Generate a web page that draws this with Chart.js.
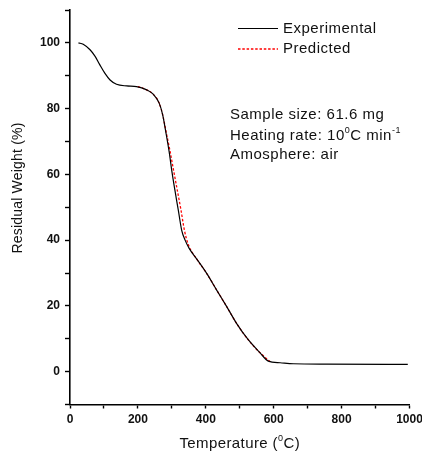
<!DOCTYPE html>
<html><head><meta charset="utf-8">
<script src="https://cdn.jsdelivr.net/npm/chart.js@4"></script>
<style>html,body{margin:0;padding:0;background:#fff;} #wrap{width:422px;height:456px;position:relative;}</style>
</head><body><div id="wrap"><canvas id="c" width="422" height="456"></canvas></div>
<script>
// ---- data ----
const expTemp   = [25, 39, 59, 74, 88, 103, 118, 137, 167, 196, 226, 245, 263, 273, 282, 292, 300, 309, 319, 329, 339, 351, 373, 403, 432, 462, 491, 525, 560, 584, 619, 658, 756, 995];
const expWeight = [100, 99.6, 97.9, 95.9, 93.3, 90.7, 88.7, 87.4, 86.9, 86.7, 85.7, 84.4, 81.6, 78.1, 73.0, 66.9, 61.0, 55.2, 49.1, 43.0, 40.0, 37.5, 34.3, 29.8, 24.8, 19.7, 14.6, 9.7, 5.7, 3.2, 2.7, 2.4, 2.3, 2.2];
const predTemp   = [200, 226, 245, 263, 273, 283, 294, 305, 316, 327, 337, 349, 373, 403, 432, 462, 491, 525, 560, 590];
const predWeight = [86.7, 85.7, 84.4, 81.6, 78.1, 73.0, 67.4, 61.3, 55.2, 49.1, 43.0, 38.5, 34.3, 29.8, 24.8, 19.7, 14.6, 9.7, 5.7, 3.0];
const seriesNames = ['Experimental', 'Predicted'];
const xLabelTicks = [0, 200, 400, 600, 800, 1000];
const yLabelTicks = [0, 20, 40, 60, 80, 100];
const xTitle = [['Temperature (', false], ['0', true], ['C)', false]];
const yTitle = 'Residual Weight (%)';
const infoLines = [
  [['Sample size: 61.6 mg', false]],
  [['Heating rate: 10', false], ['0', true], ['C min', false], ['-1', true]],
  [['Amosphere: air', false]]
];

const FONT = '"Liberation Sans", Arial, sans-serif';

function drawRich(ctx, parts, x, y, size, spacing) {
  ctx.textBaseline = 'middle';
  ctx.textAlign = 'left';
  let cx = x;
  for (const [t, sup] of parts) {
    const s = sup ? Math.round(size * 0.6) : size;
    ctx.font = s + 'px ' + FONT;
    ctx.letterSpacing = spacing + 'px';
    ctx.fillText(t, cx, sup ? y - size * 0.38 : y);
    cx += ctx.measureText(t).width;
  }
  return cx - x;
}
function richWidth(ctx, parts, size, spacing) {
  let w = 0;
  for (const [t, sup] of parts) {
    const s = sup ? Math.round(size * 0.6) : size;
    ctx.font = s + 'px ' + FONT;
    ctx.letterSpacing = spacing + 'px';
    w += ctx.measureText(t).width;
  }
  return w;
}

const decor = {
  id: 'decor',
  afterDraw(chart) {
    const ctx = chart.ctx;
    const ca = chart.chartArea;
    ctx.save();
    ctx.fillStyle = '#111';
    // x title
    const xs = 15, xsp = 0.4;
    const w = richWidth(ctx, xTitle, xs, xsp);
    drawRich(ctx, xTitle, (ca.left + ca.right) / 2 - w / 2, 444, xs, xsp);
    // y title
    ctx.save();
    ctx.translate(18, 188);
    ctx.rotate(-Math.PI / 2);
    ctx.font = '14px ' + FONT;
    ctx.letterSpacing = '0.2px';
    ctx.textAlign = 'center';
    ctx.textBaseline = 'middle';
    ctx.fillText(yTitle, 0, 0);
    ctx.restore();
    // legend
    const lx0 = 238, lx1 = 278;
    const rows = [28.5, 49];
    chart.data.datasets.forEach((ds, i) => {
      ctx.save();
      ctx.strokeStyle = ds.borderColor;
      ctx.lineWidth = ds.borderWidth;
      ctx.setLineDash(ds.borderDash || []);
      ctx.beginPath();
      ctx.moveTo(lx0, rows[i]);
      ctx.lineTo(lx1, rows[i]);
      ctx.stroke();
      ctx.restore();
      drawRich(ctx, [[seriesNames[i], false]], 283, rows[i], 15, 0.5);
    });
    // info text
    const iy = [115, 136, 155];
    infoLines.forEach((parts, i) => drawRich(ctx, parts, 230, iy[i], 15, 0.5));
    ctx.restore();
  }
};

const ctx = document.getElementById('c').getContext('2d');
new Chart(ctx, {
  type: 'line',
  data: {
    datasets: [
      {
        label: seriesNames[0],
        data: expTemp.map((t, i) => ({ x: t, y: expWeight[i] })),
        borderColor: '#000',
        borderWidth: 1.2,
        pointRadius: 0,
        cubicInterpolationMode: 'monotone',
        fill: false
      },
      {
        label: seriesNames[1],
        data: predTemp.map((t, i) => ({ x: t, y: predWeight[i] })),
        borderColor: '#ff0000',
        borderWidth: 1.3,
        borderDash: [2.5, 1.8],
        pointRadius: 0,
        cubicInterpolationMode: 'monotone',
        fill: false
      }
    ]
  },
  options: {
    responsive: false,
    animation: false,
    layout: { padding: { left: 0, top: 10, right: 12.5, bottom: 0 } },
    plugins: { legend: { display: false }, tooltip: { enabled: false } },
    scales: {
      x: {
        type: 'linear', min: 0, max: 1000,
        border: { display: true, color: '#000', width: 1.6 },
        grid: { display: true, drawOnChartArea: false, drawTicks: true, tickLength: 4, color: '#000', tickWidth: 1.4 },
        ticks: {
          stepSize: 100, autoSkip: false, maxRotation: 0, padding: 4,
          color: '#111', font: { family: FONT, size: 12, weight: 'bold' },
          callback: v => xLabelTicks.includes(v) ? String(v) : ''
        },
        afterFit(s) { s.height = 456 - 404.5; s.paddingLeft = 0; s.paddingRight = 0; }
      },
      y: {
        type: 'linear', min: -10, max: 110,
        border: { display: true, color: '#000', width: 1.6 },
        grid: { display: true, drawOnChartArea: false, drawTicks: true, tickLength: 5, color: '#000', tickWidth: 1.4 },
        ticks: {
          stepSize: 10, autoSkip: false, padding: 5,
          color: '#111', font: { family: FONT, size: 12, weight: 'bold' },
          callback: v => yLabelTicks.includes(v) ? String(v) : ''
        },
        afterFit(s) { s.width = 70; s.paddingTop = 0; s.paddingBottom = 0; }
      }
    }
  },
  plugins: [decor]
});
</script>
</body></html>
